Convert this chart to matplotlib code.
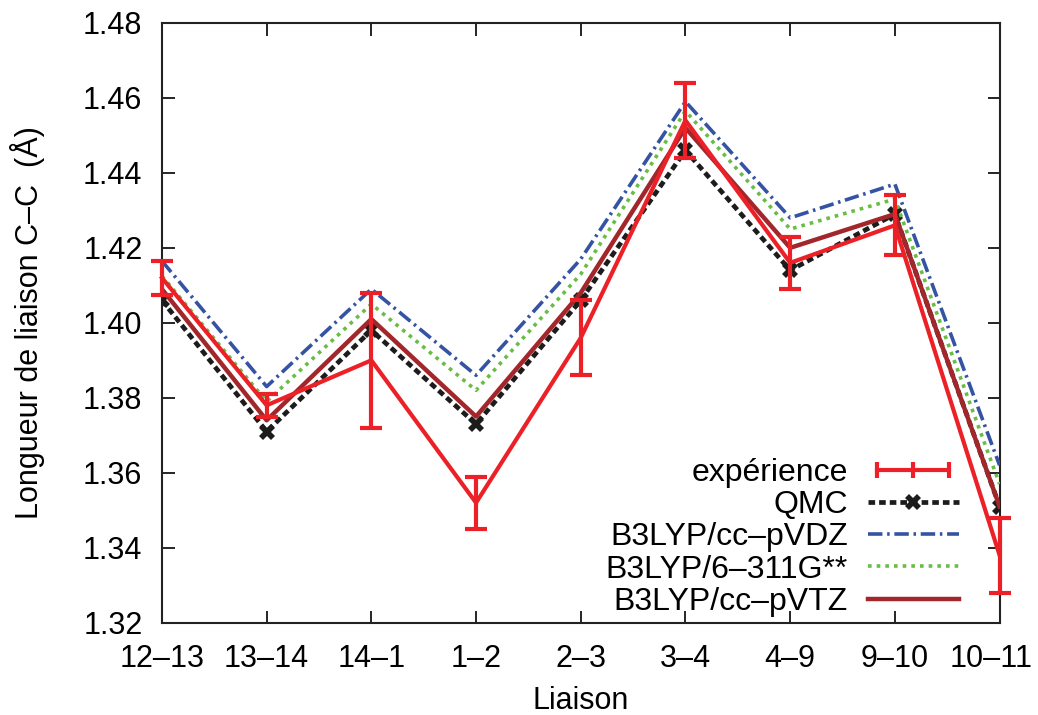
import matplotlib
matplotlib.use("Agg")
import matplotlib.pyplot as plt
import matplotlib.transforms as mtransforms
from matplotlib.lines import Line2D
from matplotlib.legend_handler import HandlerLine2D
import numpy as np

plt.rcParams['font.family'] = ['Liberation Sans', 'DejaVu Sans']

# ***** Data *****
liaisons = ['12–13', '13–14', '14–1', '1–2', '2–3', '3–4', '4–9', '9–10', '10–11']
experience = [1.412, 1.378, 1.390, 1.352, 1.396, 1.454, 1.416, 1.426, 1.338]
experience_err = [0.0045, 0.003, 0.018, 0.007, 0.010, 0.010, 0.007, 0.008, 0.010]
qmc = [1.406, 1.371, 1.398, 1.373, 1.406, 1.446, 1.414, 1.429, 1.351]
b3lyp_vdz = [1.4165, 1.383, 1.409, 1.386, 1.417, 1.459, 1.428, 1.437, 1.362]
b3lyp_6311 = [1.4125, 1.379, 1.405, 1.382, 1.413, 1.4565, 1.425, 1.433, 1.357]
b3lyp_vtz = [1.409, 1.374, 1.401, 1.375, 1.408, 1.452, 1.420, 1.429, 1.351]
y_ticks = [1.32, 1.34, 1.36, 1.38, 1.40, 1.42, 1.44, 1.46, 1.48]

RED = '#ec2027'
DARKRED = '#a3262b'
BLUE = '#3553a3'
GREEN = '#69bd45'
BLACK = '#1c1c1c'

x = np.arange(len(liaisons))

fig = plt.figure(figsize=(10.38, 7.15), dpi=100)
ax = fig.add_axes([0.156, 0.129, 0.807, 0.839])

l_qmc, = ax.plot(x, qmc, color=BLACK, lw=3.4, linestyle=(0, (1.4, 0.85)),
                 marker='X', markersize=11, markeredgewidth=0, label='QMC', zorder=3)
l_vdz, = ax.plot(x, b3lyp_vdz, color=BLUE, lw=2.6, linestyle=(0, (4, 1.3, 0.7, 1.3)),
                 label='B3LYP/cc–pVDZ', zorder=3)
l_6311, = ax.plot(x, b3lyp_6311, color=GREEN, lw=2.6, linestyle=(0, (1, 1.4)),
                  label='B3LYP/6–311G**', zorder=3)
l_vtz, = ax.plot(x, b3lyp_vtz, color=DARKRED, lw=3.2, label='B3LYP/cc–pVTZ', zorder=4)
ax.errorbar(x, experience, yerr=experience_err, color=RED, lw=3.0, elinewidth=3.0,
            capsize=8, capthick=3.0, zorder=5, clip_on=False)

# legende facon gnuplot : texte aligne a droite, echantillon a droite
h_exp = Line2D([], [], color=RED, lw=3.0, marker='|', markersize=12, markeredgewidth=3.0)
handles = [h_exp, l_qmc, l_vdz, l_6311, l_vtz]
labels = ['expérience', 'QMC', 'B3LYP/cc–pVDZ', 'B3LYP/6–311G**', 'B3LYP/cc–pVTZ']
leg = ax.legend(handles, labels, loc='lower right', bbox_to_anchor=(0.951, 0.01),
                frameon=False, markerfirst=False, fontsize=23, handlelength=2.85,
                handletextpad=0.62, labelspacing=0.07, borderaxespad=0, borderpad=0,
                handler_map={h_exp: HandlerLine2D(numpoints=3)})

ax.set_xlim(0, 8)
ax.set_ylim(1.32, 1.48)
ax.set_xticks(x)
ax.set_xticklabels(liaisons)
ax.set_yticks(y_ticks)
ax.set_yticklabels([f"{v:.2f}" for v in y_ticks])
ax.tick_params(axis='both', direction='in', length=9, width=1.2, labelsize=22,
               top=True, right=True)
ax.tick_params(axis='x', pad=15)
ax.tick_params(axis='y', pad=14)
for sp in ax.spines.values():
    sp.set_linewidth(1.5)
    sp.set_color('#222222')

# le dernier label est un peu decale vers la gauche (sinon coupe)
last = ax.get_xticklabels()[-1]
last.set_transform(last.get_transform() + mtransforms.ScaledTranslation(-8 / 100, 0, fig.dpi_scale_trans))

ax.set_xlabel('Liaison', fontsize=22, labelpad=9)
ax.set_ylabel('Longueur de liaison C–C  (Å)', fontsize=22, labelpad=27)

fig.savefig('out.png', dpi=100)
